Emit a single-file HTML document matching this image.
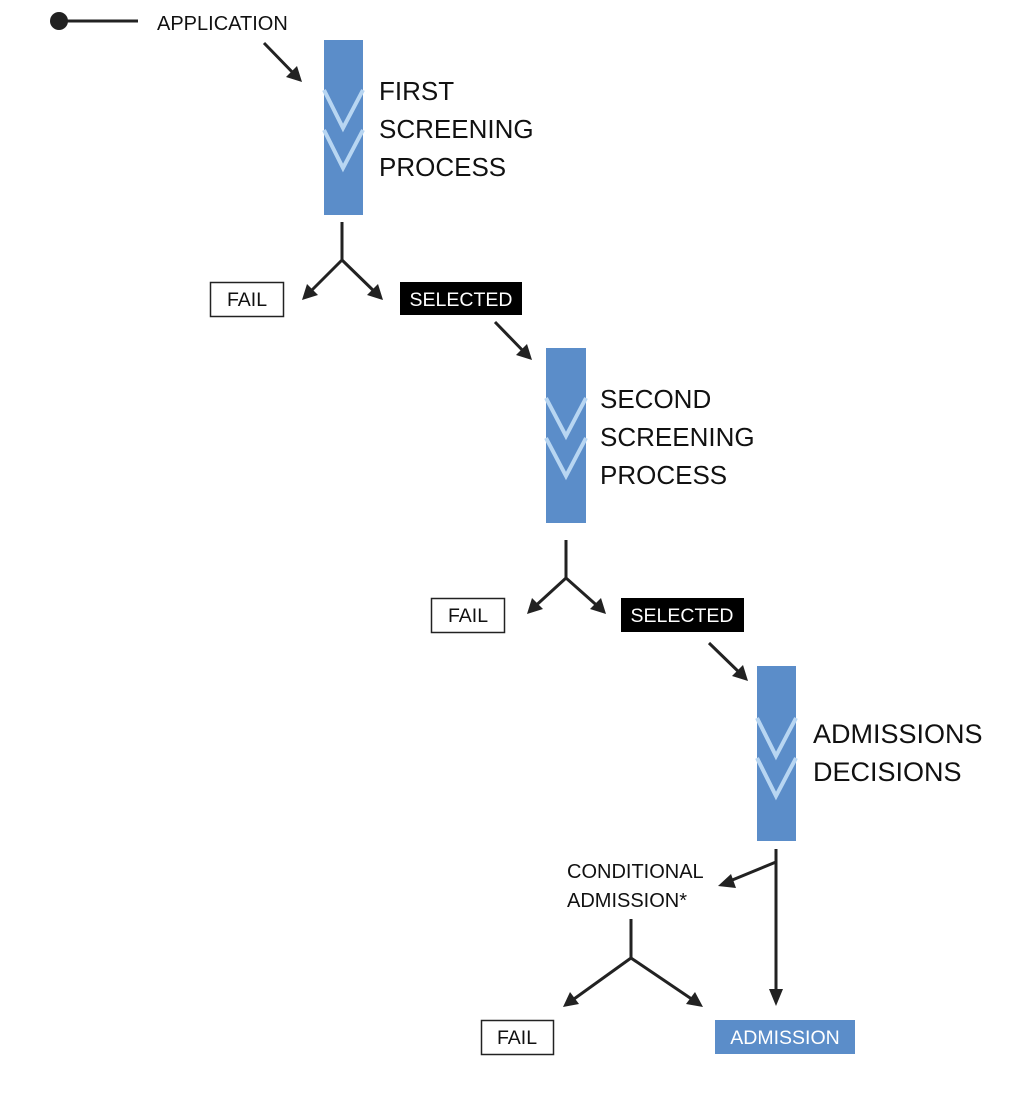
<!DOCTYPE html>
<html><head><meta charset="utf-8"><style>
html,body{margin:0;padding:0;background:#fff;}
svg{display:block;}
text{font-family:"Liberation Sans",sans-serif;}
</style></head><body>
<svg width="1031" height="1117" viewBox="0 0 1031 1117" xmlns="http://www.w3.org/2000/svg">
<g stroke="#222" stroke-width="3" fill="none" stroke-linecap="butt">
<line x1="59" y1="21" x2="138" y2="21"/>
<line x1="264" y1="43" x2="298" y2="78"/>
<line x1="342" y1="222" x2="342" y2="260"/>
<line x1="342" y1="260" x2="306" y2="296"/>
<line x1="342" y1="260" x2="379" y2="296"/>
<line x1="495" y1="322" x2="528" y2="356"/>
<line x1="566" y1="540" x2="566" y2="578"/>
<line x1="566" y1="578" x2="531" y2="610"/>
<line x1="566" y1="578" x2="602" y2="610"/>
<line x1="709" y1="643" x2="744" y2="677"/>
<line x1="776" y1="849" x2="776" y2="998"/>
<line x1="776" y1="862" x2="725" y2="883"/>
<line x1="631" y1="919" x2="631" y2="958"/>
<line x1="631" y1="958" x2="567" y2="1004"/>
<line x1="631" y1="958" x2="699" y2="1004"/>
</g>
<g fill="#222">
<circle cx="59" cy="21" r="9"/>
<polygon points="302,82 286,77 297,66"/>
<polygon points="302,300 307,284 318,295"/>
<polygon points="383,300 367,295 378,284"/>
<polygon points="532,360 516,355 527,344"/>
<polygon points="527,614 532,598 543,609"/>
<polygon points="606,614 590,609 601,598"/>
<polygon points="748,681 732,676 743,665"/>
<polygon points="776,1006 769,989 783,989"/>
<polygon points="718,886 731,874 736,888"/>
<polygon points="563,1007 570,992 579,1004"/>
<polygon points="703,1007 686,1004 695,992"/>
</g>
<g>
<rect x="324" y="40" width="39" height="175" fill="#5b8dc9"/>
<polyline points="324,90 343,128 363,90" fill="none" stroke="#b8d6f2" stroke-width="4"/>
<polyline points="324,130 343,168 363,130" fill="none" stroke="#b8d6f2" stroke-width="4"/>
<rect x="546" y="348" width="40" height="175" fill="#5b8dc9"/>
<polyline points="546,398 566,436 586,398" fill="none" stroke="#b8d6f2" stroke-width="4"/>
<polyline points="546,438 566,476 586,438" fill="none" stroke="#b8d6f2" stroke-width="4"/>
<rect x="757" y="666" width="39" height="175" fill="#5b8dc9"/>
<polyline points="757,718 776,756 796,718" fill="none" stroke="#b8d6f2" stroke-width="4"/>
<polyline points="757,758 776,796 796,758" fill="none" stroke="#b8d6f2" stroke-width="4"/>
</g>
<rect x="210.5" y="282.5" width="73" height="34" fill="#fff" stroke="#222" stroke-width="1.5"/>
<rect x="400" y="282" width="122" height="33" fill="#000"/>
<rect x="431.5" y="598.5" width="73" height="34" fill="#fff" stroke="#222" stroke-width="1.5"/>
<rect x="621" y="598" width="123" height="34" fill="#000"/>
<rect x="481.5" y="1020.5" width="72" height="34" fill="#fff" stroke="#222" stroke-width="1.5"/>
<rect x="715" y="1020" width="140" height="34" fill="#5b8dc9"/>
<g fill="#111" font-size="20">
<text x="157" y="30">APPLICATION</text>
<text x="567" y="878">CONDITIONAL</text>
<text x="567" y="907">ADMISSION*</text>
</g>
<g fill="#111" font-size="19.5">
<text x="247" y="306" text-anchor="middle">FAIL</text>
<text x="461" y="306" text-anchor="middle" fill="#fff">SELECTED</text>
<text x="468" y="622" text-anchor="middle">FAIL</text>
<text x="682" y="622" text-anchor="middle" fill="#fff">SELECTED</text>
<text x="517" y="1044" text-anchor="middle">FAIL</text>
<text x="785" y="1044" text-anchor="middle" fill="#fff">ADMISSION</text>
</g>
<g fill="#111" font-size="26">
<text x="379" y="100">FIRST</text>
<text x="379" y="138">SCREENING</text>
<text x="379" y="176">PROCESS</text>
<text x="600" y="408">SECOND</text>
<text x="600" y="446">SCREENING</text>
<text x="600" y="484">PROCESS</text>
<text x="813" y="743" font-size="27">ADMISSIONS</text>
<text x="813" y="781" font-size="27">DECISIONS</text>
</g>
</svg>
</body></html>
